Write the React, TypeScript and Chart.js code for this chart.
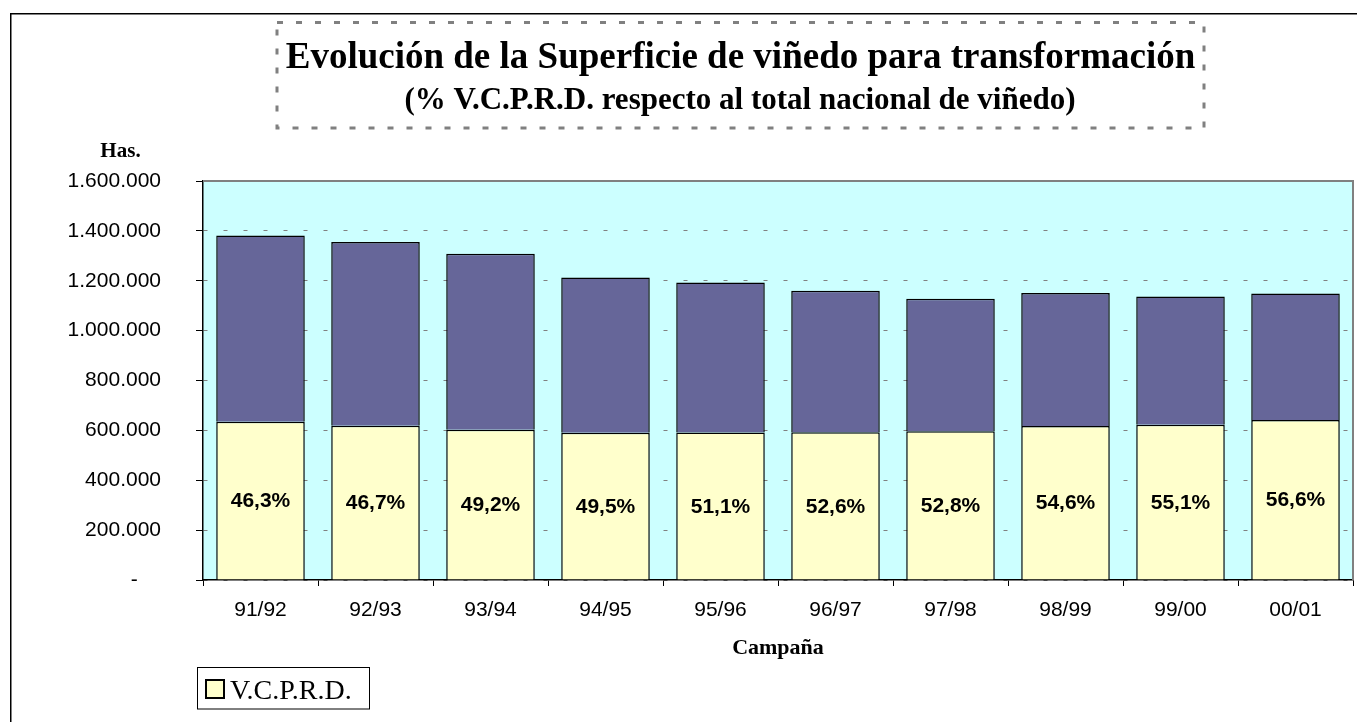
import React, { useEffect, useRef } from "react";
import { Chart, registerables } from "chart.js";

Chart.register(...registerables);

const campaigns = ["91/92", "92/93", "93/94", "94/95", "95/96", "96/97", "97/98", "98/99", "99/00", "00/01"];
const vcprdHas = [635000, 619000, 603000, 590000, 591000, 592000, 596000, 618000, 623000, 642000];
const otherHas = [746000, 736000, 705000, 623000, 602000, 568000, 532000, 533000, 514000, 507000];
const pctLabels = ["46,3%", "46,7%", "49,2%", "49,5%", "51,1%", "52,6%", "52,8%", "54,6%", "55,1%", "56,6%"];
const yTicks = [0, 200000, 400000, 600000, 800000, 1000000, 1200000, 1400000, 1600000];

const titleLine1 = "Evolución de la Superficie de viñedo para transformación";
const titleLine2 = "(% V.C.P.R.D. respecto al total nacional de viñedo)";
const yTitle = "Has.";
const xTitle = "Campaña";
const legendLabel = "V.C.P.R.D.";

const SANS = '"Liberation Sans", Arial, sans-serif';
const SERIF = '"Liberation Serif", "Times New Roman", serif';

function fmt(n: number): string {
  if (n === 0) return "-    ";
  return String(n).replace(/\B(?=(\d{3})+(?!\d))/g, ".");
}

const decorPlugin = {
  id: "decor",
  beforeDraw(chart: any) {
    const { ctx, chartArea, width, height } = chart;
    ctx.save();
    ctx.fillStyle = "#ffffff";
    ctx.fillRect(0, 0, width, height);
    ctx.fillStyle = "#CCFFFF";
    ctx.fillRect(chartArea.left, chartArea.top, chartArea.right - chartArea.left, chartArea.bottom - chartArea.top);
    ctx.restore();
  },
  afterDatasetsDraw(chart: any) {
    const { ctx } = chart;
    const meta = chart.getDatasetMeta(0);
    ctx.save();
    ctx.fillStyle = "#000";
    ctx.font = `bold 21px ${SANS}`;
    ctx.textAlign = "center";
    ctx.textBaseline = "middle";
    meta.data.forEach((el: any, i: number) => {
      const p = el.getProps(["x", "y", "base"], true);
      ctx.fillText(pctLabels[i], p.x, (p.y + p.base) / 2 + 1);
    });
    ctx.restore();
  },
  afterDraw(chart: any) {
    const { ctx, chartArea, width, height } = chart;
    ctx.save();
    // plot area top/right border
    ctx.strokeStyle = "#808080";
    ctx.lineWidth = 2;
    ctx.beginPath();
    ctx.moveTo(chartArea.left, chartArea.top);
    ctx.lineTo(chartArea.right, chartArea.top);
    ctx.lineTo(chartArea.right, chartArea.bottom);
    ctx.stroke();

    // outer frame
    ctx.strokeStyle = "#000";
    ctx.lineWidth = 1.5;
    ctx.beginPath();
    ctx.moveTo(10.75, height);
    ctx.lineTo(10.75, 13.75);
    ctx.lineTo(width, 13.75);
    ctx.stroke();

    // title box
    ctx.strokeStyle = "#808080";
    ctx.lineWidth = 3;
    ctx.setLineDash([6, 13]);
    ctx.strokeRect(277, 22.5, 927, 105.5);
    ctx.setLineDash([]);

    // title text
    ctx.fillStyle = "#000";
    ctx.textAlign = "center";
    ctx.textBaseline = "alphabetic";
    ctx.font = `bold 37px ${SERIF}`;
    ctx.fillText(titleLine1, 740.5, 68);
    ctx.font = `bold 31px ${SERIF}`;
    ctx.fillText(titleLine2, 740, 109);

    // y title
    ctx.font = `bold 21px ${SERIF}`;
    ctx.fillText(yTitle, 120.5, 157);

    // legend
    ctx.fillStyle = "#ffffff";
    ctx.fillRect(197, 667.5, 172, 41.5);
    ctx.strokeStyle = "#000";
    ctx.lineWidth = 1;
    ctx.strokeRect(197.5, 667.5, 172, 41.5);
    ctx.fillStyle = "#FFFFCC";
    ctx.fillRect(206, 680, 18, 18);
    ctx.lineWidth = 2;
    ctx.strokeStyle = "#000";
    ctx.strokeRect(206, 680, 18, 18);
    ctx.fillStyle = "#000";
    ctx.textAlign = "left";
    ctx.font = `28px ${SERIF}`;
    ctx.fillText(legendLabel, 230, 699);
    ctx.restore();
  },
};

export default function App() {
  const ref = useRef<HTMLCanvasElement | null>(null);
  useEffect(() => {
    if (!ref.current) return;
    const chart = new Chart(ref.current, {
      type: "bar",
      data: {
        labels: campaigns,
        datasets: [
          {
            label: legendLabel,
            data: vcprdHas,
            backgroundColor: "#FFFFCC",
            borderColor: "#000000",
            borderWidth: 1.5,
            barPercentage: 0.77,
            categoryPercentage: 1,
          },
          {
            label: "Resto",
            data: otherHas,
            backgroundColor: "#666699",
            borderColor: "#000000",
            borderWidth: 1.5,
            barPercentage: 0.77,
            categoryPercentage: 1,
          },
        ],
      },
      options: {
        animation: false,
        responsive: false,
        devicePixelRatio: 1,
        layout: { padding: { top: 181, right: 4, left: 0, bottom: 0 } },
        plugins: {
          legend: { display: false },
          title: { display: false },
          tooltip: { enabled: false },
        },
        scales: {
          x: {
            stacked: true,
            afterFit: (scale: any) => {
              scale.height = 142;
            },
            grid: {
              display: true,
              drawOnChartArea: false,
              drawTicks: true,
              tickLength: 6,
              tickColor: "#000",
              offset: true,
            },
            border: { display: true, color: "#000", width: 1.5 },
            ticks: {
              color: "#000",
              font: { family: SANS, size: 21 },
              padding: 12,
              maxRotation: 0,
              autoSkip: false,
            },
            title: {
              display: true,
              text: xTitle,
              color: "#000",
              font: { family: SERIF, size: 22, weight: "bold" },
              padding: { top: 0, bottom: 60 },
            },
          },
          y: {
            stacked: true,
            min: 0,
            max: 1600000,
            afterFit: (scale: any) => {
              scale.width = 203;
            },
            afterBuildTicks: (scale: any) => {
              scale.ticks = yTicks.map((v) => ({ value: v }));
            },
            grid: {
              display: true,
              drawOnChartArea: true,
              color: "#808080",
              lineWidth: 1,
              drawTicks: true,
              tickLength: 7,
              tickColor: "#000",
            },
            border: { display: true, color: "#000", width: 1.5, dash: [4, 16] },
            ticks: {
              color: "#000",
              font: { family: SANS, size: 21 },
              padding: 35,
              callback: (v: any) => fmt(Number(v)),
            },
          },
        },
      },
      plugins: [decorPlugin],
    } as any);
    return () => chart.destroy();
  }, []);
  return (
    <div style={{ position: "fixed", left: 0, top: 0, width: 1357, height: 722, background: "#fff" }}>
      <canvas ref={ref} width={1357} height={722} style={{ display: "block" }} />
    </div>
  );
}
